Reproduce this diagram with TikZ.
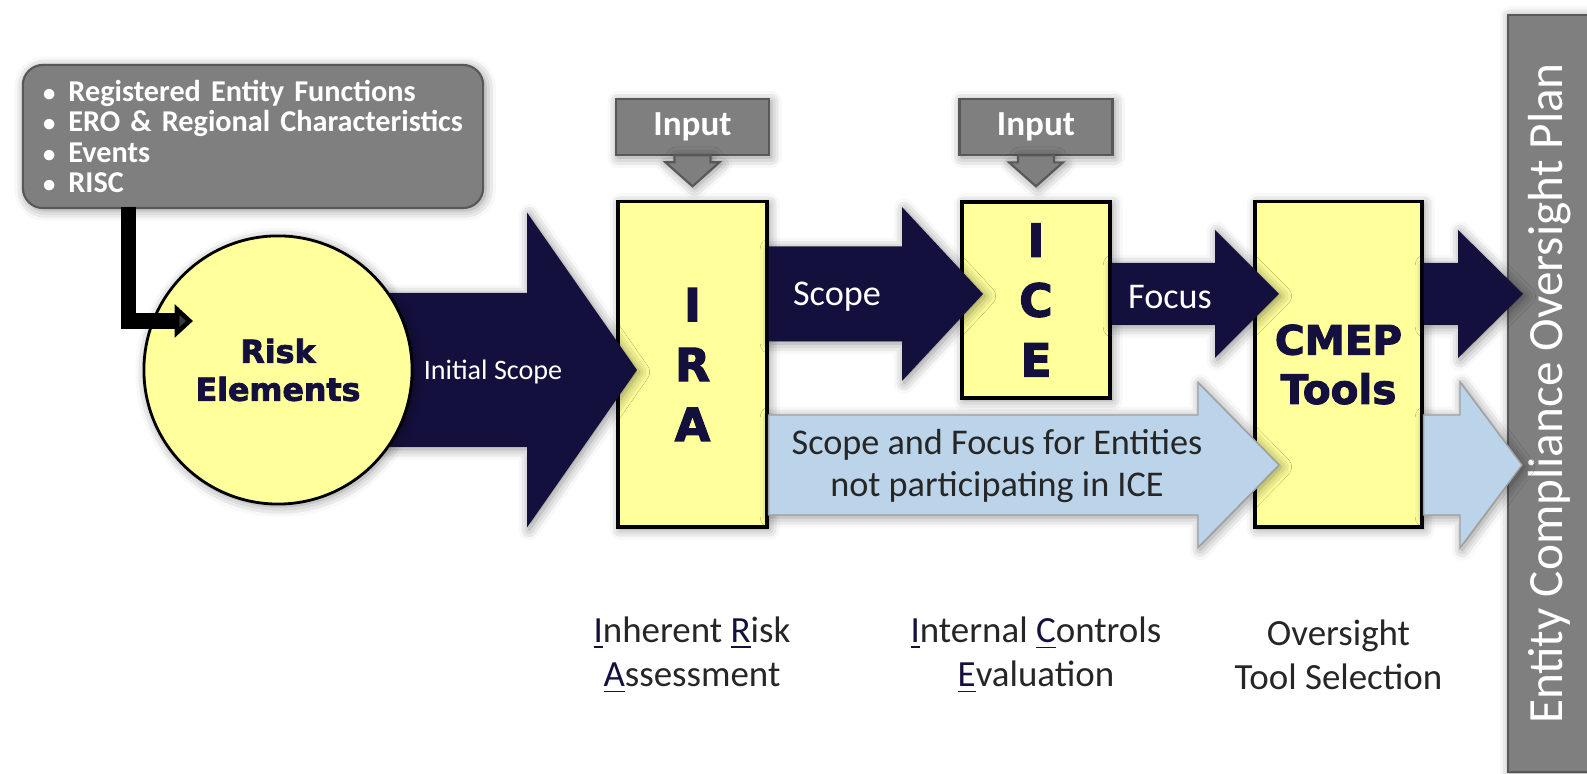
\documentclass[tikz,border=0pt]{standalone}
\usepackage{fontspec}
\setmainfont{Carlito}
\newfontfamily\heavyfont{DejaVu Sans Bold}[FakeBold=2.5]
\usetikzlibrary{positioning,calc,arrows.meta,shadows.blur}

\definecolor{navyarrow}{RGB}{20,16,62}
\definecolor{paleyellow}{RGB}{255,255,155}
\definecolor{paleblue}{RGB}{187,212,234}
\definecolor{boxgrey}{RGB}{127,127,127}
\definecolor{edgegrey}{RGB}{88,88,88}
\definecolor{labeltext}{RGB}{38,38,38}

\newcommand{\keyletter}[1]{\textcolor{navyarrow}{\underline{#1}}}
\newcommand{\dotitem}{\hspace{1.5pt}\makebox[7.2pt][l]{\fontsize{7}{7}\selectfont\textbullet}}
% #2 start, #3 tip, #4 half shaft, #5 half head, #6 head length
\newcommand{\fatarrow}[6][navyfill]{%
  \path[#1] ($(#2)+(0,#4)$) -- ($(#3)+(-#6,#4)$) -- ($(#3)+(-#6,#5)$) -- (#3)
    -- ($(#3)+(-#6,-#5)$) -- ($(#3)+(-#6,-#4)$) -- ($(#2)+(0,-#4)$) -- cycle;}

\tikzset{
  glow/.style={blur shadow={shadow xshift=0.6pt,shadow yshift=-0.6pt,shadow blur radius=3pt,shadow opacity=45}},
  stagebox/.style={draw=black,line width=0.9pt,fill=paleyellow,glow,text=navyarrow,align=center,inner sep=0pt,
    font=\heavyfont\fontsize{13}{17}\selectfont},
  greybox/.style={draw=edgegrey,line width=0.6pt,fill=boxgrey,text=white,glow},
  navyfill/.style={fill=navyarrow,glow},
  bluefill/.style={fill=paleblue,draw=gray!75,line width=0.4pt,glow},
  arrowtext/.style={text=white,font=\fontsize{10.3}{12}\selectfont},
  steplabel/.style={text=labeltext,align=center,font=\fontsize{10.5}{12.6}\selectfont},
}

\begin{document}
\begin{tikzpicture}[x=0.01cm,y=-0.01cm]
\useasboundingbox (0,0) rectangle (1587,774);

% stages
\node[stagebox,minimum width=1.49cm,minimum height=3.25cm] (ira) at (692.5,364.5) {I\\R\\A};
\node[stagebox,minimum width=1.48cm,minimum height=1.96cm] (ice) at (1036,300) {I\\C\\E};
\node[stagebox,minimum width=1.67cm,minimum height=3.25cm,font=\heavyfont\fontsize{11.5}{14}\selectfont] (cmep) at (1338.5,364.5) {CMEP\\Tools};

\foreach \b in {ira,ice} {
  \node[greybox,minimum width=1.53cm,minimum height=0.56cm,font=\bfseries\fontsize{10}{12}\selectfont,above=0.44cm of \b] (\b-input) {Input};
  \path[greybox] ($(\b-input.south)+(-18,-1)$) -- ++(0,7) -- ++(-9,0) -- ++(27,24) -- ++(27,-24) -- ++(-9,0) -- ++(0,-7) -- cycle;
}

\node[greybox,rounded corners=0.2cm,minimum width=4.6cm,minimum height=1.43cm,text width=4.3cm,inner xsep=0.15cm,align=left,
  font=\bfseries\fontsize{8.6}{8.7}\selectfont] (factors) at (253,136.5)
  {\dotitem Registered Entity Functions\\
   \dotitem ERO \& Regional Characteristics\\
   \dotitem Events\\
   \dotitem RISC};

\node[greybox,rotate=90,minimum width=7.57cm,minimum height=0.84cm,font=\fontsize{14}{16}\selectfont] (plan) at (1550,393.5) {Entity Compliance Oversight Plan};

% initial scope
\coordinate (initstart) at (320,370);
\coordinate (inittip) at (637,370);
\fatarrow{initstart}{inittip}{77}{157.5}{110}

\node[circle,draw=black,line width=0.8pt,fill=paleyellow,glow,minimum size=2.68cm,inner sep=0pt,align=center,text=navyarrow,
  font=\heavyfont\fontsize{9}{10.8}\selectfont] (risk) at (278,370) {Risk\\Elements};

\draw[line width=4.3pt,-{Triangle[length=5.2pt,width=9.2pt]}] ($(factors.south west)+(106.5,-2)$) |- ($(risk.center)+(-85,-49)$);

% scope and focus
\coordinate (scopetip) at (983,294);
\coordinate (focustip) at (1279,294);
\coordinate (plantip) at (1523,294);
\coordinate (bluetip) at (1279,465);
\coordinate (blueplantip) at (1522,465);
\fatarrow{ira.east |- scopetip}{scopetip}{47.5}{87}{81}
\fatarrow{ice.east |- focustip}{focustip}{31}{64}{64}
\fatarrow{cmep.east |- plantip}{plantip}{31}{64}{65}
\fatarrow[bluefill]{ira.east |- bluetip}{bluetip}{50}{82.5}{81}
\fatarrow[bluefill]{cmep.east |- blueplantip}{blueplantip}{50}{83}{62}

\node[arrowtext,font=\fontsize{8}{10}\selectfont] (initlabel) at (493,372) {Initial Scope};
\node[arrowtext] (scopelabel) at (837,297) {Scope};
\node[arrowtext] (focuslabel) at (1170,297) {Focus};
\node[text=labeltext,align=center,font=\fontsize{10.3}{11.9}\selectfont] (bluelabel) at (997,466)
  {Scope and Focus for Entities\\not participating in ICE};

% stage names
\node[steplabel] (iraname) at (692,655) {\keyletter{I}nherent \keyletter{R}isk\\\keyletter{A}ssessment};
\node[steplabel] (icename) at (1036,655) {\keyletter{I}nternal \keyletter{C}ontrols\\\keyletter{E}valuation};
\node[steplabel] (cmepname) at (1338.5,655) {Oversight\\Tool Selection};
\end{tikzpicture}
\end{document}
